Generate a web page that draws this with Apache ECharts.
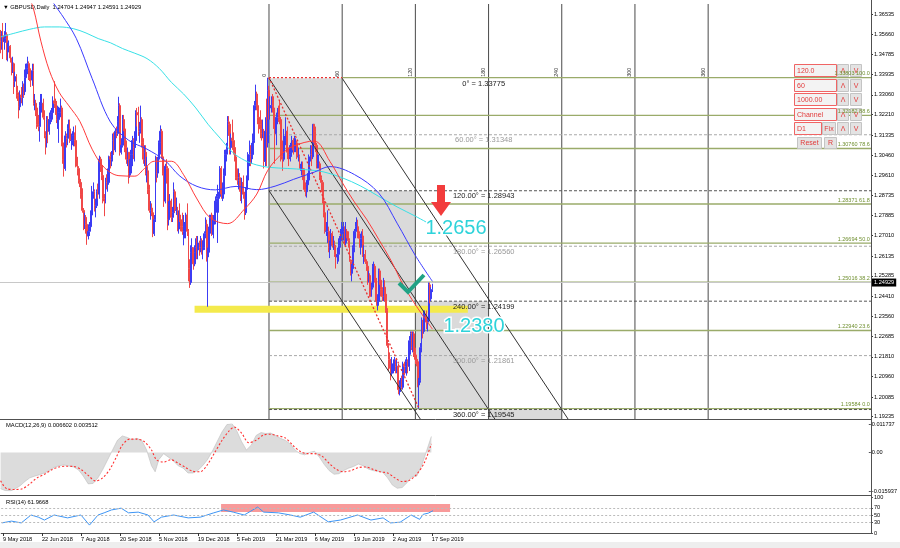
<!DOCTYPE html>
<html><head><meta charset="utf-8">
<script src="https://cdn.jsdelivr.net/npm/echarts@6/dist/echarts.min.js"></script>
<style>html,body{margin:0;padding:0;background:#fff;}#c{width:900px;height:548px;}</style>
</head><body><div id="c"></div>
<script>
// ---------------- DATA ----------------
const symbolName = 'GBPUSD,Daily';
// daily bars [open, high, low, close], 8 May 2018 .. 18 Sep 2019 (weekdays, no 25 Dec / 1 Jan)
const bars = [
[1.3570,1.3585,1.3485,1.3535],[1.3535,1.3580,1.3500,1.3560],[1.3560,1.3615,1.3460,1.3535],[1.3535,1.3580,1.3500,1.3550],
[1.3550,1.3615,1.3530,1.3565],[1.3565,1.3575,1.3455,1.3490],[1.3490,1.3530,1.3450,1.3510],[1.3510,1.3540,1.3490,1.3515],[1.3515,1.3520,1.3445,1.3465],
[1.3465,1.3465,1.3390,1.3430],[1.3430,1.3470,1.3400,1.3440],[1.3440,1.3445,1.3310,1.3365],[1.3365,1.3405,1.3340,1.3385],[1.3385,1.3395,1.3290,1.3315],
[1.3315,1.3345,1.3280,1.3305],[1.3305,1.3315,1.3205,1.3255],[1.3255,1.3325,1.3240,1.3305],[1.3305,1.3340,1.3270,1.3295],[1.3295,1.3365,1.3260,1.3350],
[1.3350,1.3355,1.3295,1.3320],[1.3320,1.3415,1.3305,1.3380],[1.3380,1.3440,1.3360,1.3420],[1.3420,1.3470,1.3395,1.3440],[1.3440,1.3450,1.3370,1.3410],
[1.3410,1.3440,1.3365,1.3380],[1.3380,1.3420,1.3340,1.3370],[1.3370,1.3440,1.3345,1.3410],[1.3410,1.3440,1.3260,1.3270],[1.3270,1.3310,1.3240,1.3270],
[1.3270,1.3285,1.3215,1.3250],[1.3250,1.3260,1.3160,1.3180],[1.3180,1.3220,1.3150,1.3170],[1.3170,1.3275,1.3105,1.3260],[1.3260,1.3310,1.3230,1.3260],
[1.3260,1.3310,1.3230,1.3270],[1.3270,1.3290,1.3200,1.3210],[1.3210,1.3240,1.3120,1.3130],[1.3130,1.3150,1.3050,1.3100],[1.3100,1.3215,1.3080,1.3200],
[1.3200,1.3215,1.3100,1.3150],[1.3150,1.3230,1.3135,1.3200],[1.3200,1.3240,1.3180,1.3220],[1.3220,1.3250,1.3190,1.3230],[1.3230,1.3300,1.3200,1.3280],
[1.3280,1.3365,1.3250,1.3270],[1.3270,1.3290,1.3220,1.3250],[1.3250,1.3280,1.3185,1.3200],[1.3200,1.3260,1.3160,1.3200],[1.3200,1.3255,1.3100,1.3230],
[1.3230,1.3290,1.3210,1.3250],[1.3250,1.3260,1.3085,1.3100],[1.3100,1.3125,1.3010,1.3030],[1.3030,1.3085,1.2955,1.2990],[1.2990,1.3150,1.2980,1.3130],
[1.3130,1.3140,1.3080,1.3120],[1.3120,1.3180,1.3090,1.3160],[1.3160,1.3200,1.3120,1.3160],[1.3160,1.3200,1.3100,1.3110],[1.3110,1.3140,1.3070,1.3110],
[1.3110,1.3150,1.3090,1.3130],[1.3130,1.3170,1.3085,1.3130],[1.3130,1.3145,1.3085,1.3110],[1.3110,1.3175,1.2995,1.3000],[1.3000,1.3040,1.2960,1.2990],
[1.2990,1.3000,1.2925,1.2940],[1.2940,1.2985,1.2910,1.2930],[1.2930,1.2945,1.2860,1.2880],[1.2880,1.2905,1.2800,1.2810],[1.2810,1.2820,1.2725,1.2760],
[1.2760,1.2800,1.2730,1.2780],[1.2780,1.2790,1.2710,1.2750],[1.2750,1.2760,1.2662,1.2700],[1.2700,1.2750,1.2685,1.2720],[1.2720,1.2760,1.2700,1.2740],
[1.2740,1.2810,1.2725,1.2790],[1.2790,1.2915,1.2770,1.2880],[1.2880,1.2930,1.2860,1.2890],[1.2890,1.2900,1.2805,1.2830],[1.2830,1.2860,1.2780,1.2830],
[1.2830,1.2900,1.2820,1.2890],[1.2890,1.2925,1.2860,1.2880],[1.2880,1.3045,1.2860,1.3030],[1.3030,1.3040,1.2975,1.3000],[1.3000,1.3020,1.2940,1.2960],
[1.2960,1.2970,1.2840,1.2860],[1.2860,1.2880,1.2785,1.2850],[1.2850,1.2950,1.2840,1.2940],[1.2940,1.2965,1.2900,1.2930],[1.2930,1.2990,1.2890,1.2930],
[1.2930,1.3045,1.2920,1.3040],[1.3040,1.3060,1.2990,1.3030],[1.3030,1.3065,1.3000,1.3050],[1.3050,1.3140,1.3020,1.3110],[1.3110,1.3145,1.3050,1.3070],
[1.3070,1.3160,1.3060,1.3150],[1.3150,1.3170,1.3120,1.3140],[1.3140,1.3215,1.3130,1.3190],[1.3190,1.3298,1.3160,1.3260],[1.3260,1.3270,1.3045,1.3060],
[1.3060,1.3120,1.3050,1.3090],[1.3090,1.3220,1.3080,1.3200],[1.3200,1.3220,1.3150,1.3160],[1.3160,1.3170,1.3060,1.3080],[1.3080,1.3110,1.3010,1.3030],
[1.3030,1.3080,1.3000,1.3060],[1.3060,1.3060,1.2925,1.2970],[1.2970,1.3030,1.2950,1.2970],[1.2970,1.3070,1.2960,1.3050],[1.3050,1.3130,1.3000,1.3110],
[1.3110,1.3120,1.3030,1.3080],[1.3080,1.3150,1.3020,1.3110],[1.3110,1.3240,1.3080,1.3230],[1.3230,1.3250,1.3170,1.3220],[1.3220,1.3255,1.3130,1.3150],
[1.3150,1.3190,1.3100,1.3160],[1.3160,1.3260,1.3140,1.3200],[1.3200,1.3210,1.3080,1.3100],[1.3100,1.3120,1.3010,1.3030],[1.3030,1.3090,1.3000,1.3060],
[1.3060,1.3090,1.2960,1.2970],[1.2970,1.3040,1.2930,1.2980],[1.2980,1.3000,1.2880,1.2900],[1.2900,1.2920,1.2800,1.2810],[1.2810,1.2850,1.2770,1.2820],
[1.2820,1.2840,1.2785,1.2800],[1.2800,1.2810,1.2695,1.2710],[1.2710,1.2790,1.2700,1.2770],[1.2770,1.3045,1.2760,1.3020],[1.3020,1.3040,1.2930,1.2970],
[1.2970,1.3040,1.2950,1.3030],[1.3030,1.3110,1.3010,1.3100],[1.3100,1.3175,1.3050,1.3150],[1.3150,1.3160,1.3030,1.3040],[1.3040,1.3050,1.2960,1.2970],
[1.2970,1.2980,1.2825,1.2850],[1.2850,1.3010,1.2840,1.3000],[1.3000,1.3030,1.2925,1.2990],[1.2990,1.3000,1.2725,1.2770],[1.2770,1.2850,1.2745,1.2830],
[1.2830,1.2880,1.2800,1.2850],[1.2850,1.2860,1.2760,1.2780],[1.2780,1.2825,1.2760,1.2800],[1.2800,1.2930,1.2790,1.2890],[1.2890,1.2900,1.2800,1.2810],
[1.2810,1.2865,1.2790,1.2810],[1.2810,1.2825,1.2720,1.2730],[1.2730,1.2810,1.2710,1.2790],[1.2790,1.2840,1.2760,1.2770],[1.2770,1.2790,1.2720,1.2740],
[1.2740,1.2800,1.2705,1.2720],[1.2720,1.2790,1.2660,1.2720],[1.2720,1.2760,1.2690,1.2730],[1.2730,1.2800,1.2690,1.2790],[1.2790,1.2840,1.2700,1.2720],
[1.2720,1.2730,1.2505,1.2560],[1.2560,1.2600,1.2477,1.2500],[1.2500,1.2660,1.2490,1.2630],[1.2630,1.2690,1.2600,1.2650],[1.2650,1.2650,1.2555,1.2580],
[1.2580,1.2660,1.2570,1.2630],[1.2630,1.2690,1.2600,1.2650],[1.2650,1.2700,1.2600,1.2640],[1.2640,1.2700,1.2600,1.2670],[1.2670,1.2680,1.2615,1.2650],
[1.2650,1.2700,1.2630,1.2680],[1.2680,1.2690,1.2620,1.2640],[1.2640,1.2680,1.2600,1.2650],[1.2650,1.2720,1.2640,1.2710],
[1.2710,1.2780,1.2690,1.2750],[1.2750,1.2770,1.2590,1.2610],[1.2610,1.2650,1.2396,1.2630],[1.2630,1.2740,1.2615,1.2730],
[1.2730,1.2790,1.2710,1.2790],[1.2790,1.2800,1.2700,1.2730],[1.2730,1.2770,1.2705,1.2750],[1.2750,1.2790,1.2690,1.2760],[1.2760,1.2870,1.2750,1.2850],
[1.2850,1.2880,1.2800,1.2860],[1.2860,1.2920,1.2670,1.2870],[1.2870,1.2890,1.2800,1.2870],[1.2870,1.3000,1.2860,1.2990],[1.2990,1.3000,1.2860,1.2880],
[1.2880,1.2930,1.2850,1.2880],[1.2880,1.2990,1.2860,1.2960],[1.2960,1.3070,1.2950,1.3050],[1.3050,1.3100,1.3020,1.3070],[1.3070,1.3215,1.3050,1.3190],
[1.3190,1.3215,1.3130,1.3180],[1.3180,1.3190,1.3050,1.3080],[1.3080,1.3140,1.3050,1.3120],[1.3120,1.3200,1.3070,1.3110],[1.3110,1.3145,1.3050,1.3080],
[1.3080,1.3090,1.3020,1.3040],[1.3040,1.3060,1.2940,1.2950],[1.2950,1.2990,1.2920,1.2940],[1.2940,1.2990,1.2900,1.2950],[1.2950,1.2970,1.2890,1.2940],
[1.2940,1.2950,1.2850,1.2880],[1.2880,1.2950,1.2840,1.2930],[1.2930,1.2960,1.2860,1.2880],[1.2880,1.2890,1.2770,1.2800],[1.2800,1.2910,1.2790,1.2900],
[1.2900,1.2960,1.2880,1.2940],[1.2940,1.3060,1.2920,1.3050],[1.3050,1.3110,1.3000,1.3050],[1.3050,1.3090,1.3000,1.3040],[1.3040,1.3100,1.3010,1.3050],
[1.3050,1.3140,1.3030,1.3110],[1.3110,1.3280,1.3100,1.3260],[1.3260,1.3350,1.3240,1.3310],[1.3310,1.3320,1.3240,1.3260],[1.3260,1.3270,1.3180,1.3210],
[1.3210,1.3220,1.3140,1.3180],[1.3180,1.3240,1.3120,1.3160],[1.3160,1.3200,1.3110,1.3140],[1.3140,1.3200,1.3120,1.3150],[1.3150,1.3160,1.2990,1.3020],
[1.3020,1.3210,1.3000,1.3150],[1.3150,1.3290,1.3000,1.3100],[1.3100,1.3380,1.3080,1.3325],[1.3325,1.3345,1.3200,1.3250],[1.3250,1.3300,1.3200,1.3260],
[1.3260,1.3300,1.3230,1.3260],[1.3260,1.3310,1.3230,1.3250],[1.3250,1.3300,1.3160,1.3190],[1.3190,1.3200,1.3010,1.3140],[1.3140,1.3230,1.3090,1.3210],
[1.3210,1.3250,1.3180,1.3220],[1.3220,1.3260,1.3190,1.3210],[1.3210,1.3280,1.3180,1.3200],[1.3200,1.3210,1.3020,1.3040],[1.3040,1.3110,1.2980,1.3030],
[1.3030,1.3160,1.3020,1.3110],[1.3110,1.3130,1.3030,1.3110],[1.3110,1.3210,1.3090,1.3150],[1.3150,1.3170,1.3030,1.3060],[1.3060,1.3080,1.3000,1.3040],
[1.3040,1.3090,1.3030,1.3050],[1.3050,1.3100,1.3020,1.3060],[1.3060,1.3130,1.3040,1.3110],[1.3110,1.3120,1.3050,1.3070],[1.3070,1.3130,1.3060,1.3090],
[1.3090,1.3120,1.3060,1.3100],[1.3100,1.3110,1.3030,1.3040],[1.3040,1.3080,1.3020,1.3040],[1.3040,1.3050,1.2990,1.2990],[1.2990,1.3010,1.2980,1.2990],
[1.2990,1.3020,1.2960,1.2990],[1.2990,1.3020,1.2940,1.2960],[1.2960,1.2990,1.2890,1.2900],[1.2900,1.2930,1.2870,1.2890],[1.2890,1.2940,1.2865,1.2920],
[1.2920,1.2970,1.2910,1.2940],[1.2940,1.3050,1.2930,1.3040],[1.3040,1.3090,1.3020,1.3050],[1.3050,1.3090,1.3000,1.3040],[1.3040,1.3180,1.3030,1.3180],
[1.3180,1.3180,1.3100,1.3150],[1.3150,1.3170,1.3060,1.3090],[1.3090,1.3100,1.2990,1.3010],[1.3010,1.3050,1.2990,1.3010],[1.3010,1.3050,1.2990,1.3010],
[1.3010,1.3020,1.2940,1.2950],[1.2950,1.2960,1.2890,1.2930],[1.2930,1.2940,1.2840,1.2850],[1.2850,1.2870,1.2780,1.2800],[1.2800,1.2820,1.2710,1.2720],
[1.2720,1.2760,1.2700,1.2720],[1.2720,1.2810,1.2670,1.2720],[1.2720,1.2740,1.2630,1.2650],[1.2650,1.2680,1.2605,1.2660],[1.2660,1.2730,1.2640,1.2710],
[1.2710,1.2720,1.2650,1.2660],[1.2660,1.2700,1.2640,1.2660],[1.2660,1.2680,1.2610,1.2620],[1.2620,1.2640,1.2560,1.2610],[1.2610,1.2650,1.2580,1.2620],
[1.2620,1.2690,1.2590,1.2660],[1.2660,1.2700,1.2620,1.2680],[1.2680,1.2730,1.2650,1.2710],[1.2710,1.2760,1.2690,1.2720],[1.2720,1.2760,1.2680,1.2740],
[1.2740,1.2740,1.2660,1.2670],[1.2670,1.2760,1.2660,1.2720],[1.2720,1.2730,1.2690,1.2700],[1.2700,1.2720,1.2650,1.2680],[1.2680,1.2690,1.2590,1.2590],
[1.2590,1.2600,1.2530,1.2540],[1.2540,1.2580,1.2505,1.2560],[1.2560,1.2660,1.2540,1.2650],[1.2650,1.2730,1.2630,1.2720],[1.2720,1.2760,1.2690,1.2740],
[1.2740,1.2780,1.2720,1.2740],[1.2740,1.2770,1.2690,1.2710],[1.2710,1.2720,1.2650,1.2690],[1.2690,1.2710,1.2620,1.2690],[1.2690,1.2720,1.2650,1.2700],
[1.2700,1.2730,1.2610,1.2620],[1.2620,1.2660,1.2580,1.2620],[1.2620,1.2640,1.2580,1.2590],[1.2590,1.2600,1.2550,1.2570],[1.2570,1.2580,1.2490,1.2520],
[1.2520,1.2550,1.2500,1.2530],[1.2530,1.2540,1.2440,1.2440],[1.2440,1.2500,1.2440,1.2480],[1.2480,1.2580,1.2470,1.2570],[1.2570,1.2590,1.2540,1.2570],
[1.2570,1.2580,1.2500,1.2510],[1.2510,1.2520,1.2400,1.2420],[1.2420,1.2450,1.2380,1.2420],[1.2420,1.2560,1.2400,1.2550],[1.2550,1.2560,1.2490,1.2510],
[1.2510,1.2520,1.2440,1.2470],[1.2470,1.2480,1.2420,1.2440],[1.2440,1.2520,1.2420,1.2480],[1.2480,1.2510,1.2420,1.2450],[1.2450,1.2470,1.2370,1.2380],
[1.2380,1.2390,1.2220,1.2230],[1.2230,1.2240,1.2120,1.2170],[1.2170,1.2200,1.2130,1.2150],[1.2150,1.2170,1.2080,1.2110],[1.2110,1.2180,1.2100,1.2150],
[1.2150,1.2170,1.2110,1.2150],[1.2150,1.2180,1.2120,1.2150],[1.2150,1.2170,1.2110,1.2140],[1.2140,1.2170,1.2110,1.2140],[1.2140,1.2150,1.2020,1.2040],
[1.2040,1.2080,1.2015,1.2060],[1.2060,1.2090,1.2030,1.2060],[1.2060,1.2100,1.2040,1.2050],[1.2050,1.2160,1.2040,1.2150],[1.2150,1.2160,1.2100,1.2140],
[1.2140,1.2170,1.2110,1.2150],[1.2150,1.2180,1.2100,1.2160],[1.2160,1.2170,1.2110,1.2140],[1.2140,1.2270,1.2120,1.2250],[1.2250,1.2290,1.2190,1.2280],
[1.2280,1.2290,1.2210,1.2220],[1.2220,1.2290,1.2200,1.2280],[1.2280,1.2290,1.2180,1.2200],[1.2200,1.2220,1.2150,1.2170],[1.2170,1.2190,1.2140,1.2160],
[1.2160,1.2170,1.2050,1.2060],[1.2060,1.2090,1.1958,1.2080],[1.2080,1.2240,1.2070,1.2220],[1.2220,1.2350,1.2200,1.2330],[1.2330,1.2340,1.2260,1.2290],
[1.2290,1.2380,1.2280,1.2350],[1.2350,1.2380,1.2320,1.2360],[1.2360,1.2380,1.2300,1.2330],[1.2330,1.2350,1.2290,1.2340],[1.2340,1.2500,1.2330,1.2490],
[1.2490,1.2500,1.2410,1.2430],[1.2430,1.2480,1.2420,1.2470],[1.24704,1.24947,1.24591,1.24929]
];
const dateLabels = ['9 May 2018','22 Jun 2018','7 Aug 2018','20 Sep 2018','5 Nov 2018','19 Dec 2018','5 Feb 2019','21 Mar 2019','6 May 2019','19 Jun 2019','2 Aug 2019','17 Sep 2019'];
const dateLabelStep = 32;
const priceTicks = [1.36535,1.35660,1.34785,1.33935,1.33060,1.32210,1.31335,1.30460,1.29610,1.28735,1.27885,1.27010,1.26135,1.25285,1.24410,1.23560,1.22685,1.21810,1.20960,1.20085,1.19235];
// moving averages: [bar index, price]
const maRed = [[22,1.3742],[27,1.3675],[33,1.3537],[40,1.3410],[48,1.3317],[56,1.3259],[65,1.3192],[75,1.3073],[85,1.2994],[97,1.2959],[110,1.2957],[118,1.2990],[126,1.3021],[140,1.3021],[150,1.2963],[161,1.2859],[172,1.2777],[186,1.2753],[200,1.2816],[210,1.2880],[219,1.2982],[230,1.3050],[240,1.3086],[257,1.3108],[270,1.3020],[280,1.2930],[290,1.2846],[300,1.2772],[310,1.2685],[320,1.2595],[330,1.2490],[340,1.2405],[354,1.2300]];
const maBlue = [[36,1.3760],[42,1.3710],[50,1.3651],[62,1.3549],[75,1.3377],[90,1.3190],[105,1.3111],[120,1.3073],[135,1.3023],[147,1.2957],[161,1.2913],[176,1.2898],[193,1.2913],[210,1.2899],[225,1.2914],[240,1.2943],[257,1.2974],[270,1.2998],[290,1.2964],[310,1.2884],[325,1.2755],[340,1.2616],[354,1.2505]];
const maCyan = [[0,1.3555],[12,1.3572],[24,1.3588],[36,1.3598],[48,1.3598],[60,1.3590],[70,1.3572],[80,1.3548],[90,1.3530],[100,1.3505],[110,1.3485],[120,1.3462],[130,1.3420],[140,1.3360],[150,1.3310],[160,1.3250],[170,1.3180],[180,1.3120],[190,1.3060],[200,1.3025],[210,1.3005],[220,1.2995],[235,1.2990],[250,1.2985],[265,1.2975],[280,1.2950],[295,1.2915],[310,1.2870],[325,1.2825],[340,1.2785],[354,1.2745]];
const macdMain = [[0,-0.0150],[4,-0.0158],[8,-0.0160],[12,-0.0150],[16,-0.0138],[20,-0.0120],[24,-0.0105],[28,-0.0098],[32,-0.0092],[36,-0.0085],[40,-0.0075],[44,-0.0062],[48,-0.0055],[52,-0.0052],[56,-0.0056],[60,-0.0060],[64,-0.0072],[68,-0.0098],[72,-0.0130],[76,-0.0128],[80,-0.0105],[84,-0.0070],[88,-0.0030],[92,0.0010],[96,0.0050],[100,0.0068],[104,0.0062],[108,0.0052],[112,0.0058],[116,0.0050],[120,0.0010],[124,-0.0055],[127,-0.0080],[130,-0.0030],[134,-0.0005],[138,-0.0020],[142,-0.0035],[146,-0.0055],[150,-0.0065],[154,-0.0085],[158,-0.0085],[162,-0.0075],[166,-0.0055],[170,-0.0030],[174,0.0005],[178,0.0045],[182,0.0085],[186,0.0115],[190,0.0120],[194,0.0090],[198,0.0045],[202,0.0010],[206,0.0030],[210,0.0070],[214,0.0082],[218,0.0078],[222,0.0080],[226,0.0070],[230,0.0058],[234,0.0050],[238,0.0035],[242,0.0010],[246,-0.0005],[250,-0.0010],[254,0.0000],[258,0.0005],[262,-0.0020],[266,-0.0050],[270,-0.0075],[274,-0.0090],[278,-0.0088],[282,-0.0075],[286,-0.0065],[290,-0.0058],[294,-0.0048],[298,-0.0055],[302,-0.0068],[306,-0.0075],[310,-0.0078],[314,-0.0082],[318,-0.0105],[322,-0.0135],[326,-0.0148],[330,-0.0145],[334,-0.0125],[338,-0.0100],[342,-0.0098],[346,-0.0055],[350,0.0005],[354,0.0066]];
const macdSignal = [[0,-0.0117],[5,-0.0150],[12,-0.0153],[18,-0.0150],[24,-0.0130],[30,-0.0105],[36,-0.0090],[42,-0.0072],[48,-0.0060],[54,-0.0057],[60,-0.0058],[66,-0.0070],[72,-0.0095],[78,-0.0118],[84,-0.0105],[90,-0.0068],[96,-0.0010],[100,0.0030],[106,0.0055],[112,0.0055],[118,0.0045],[124,0.0010],[128,-0.0030],[134,-0.0040],[140,-0.0030],[146,-0.0045],[152,-0.0062],[158,-0.0078],[164,-0.0080],[170,-0.0050],[176,0.0000],[182,0.0050],[188,0.0090],[192,0.0105],[198,0.0080],[204,0.0040],[210,0.0050],[216,0.0072],[222,0.0075],[228,0.0068],[234,0.0060],[240,0.0030],[246,0.0005],[252,-0.0005],[258,-0.0005],[264,-0.0015],[270,-0.0045],[276,-0.0070],[282,-0.0080],[288,-0.0075],[294,-0.0063],[300,-0.0060],[306,-0.0070],[312,-0.0080],[318,-0.0085],[324,-0.0105],[330,-0.0120],[336,-0.0115],[342,-0.0090],[348,-0.0045],[354,0.0035]];
const macdLast = [0.006602, 0.003512];
const macdRange = [-0.015937, 0.011737];
const rsi = [[0,28],[8,33],[16,28],[24,50],[30,44],[35,36],[43,50],[54,42],[65,50],[72,22],[79,50],[84,56],[90,64],[98,69],[104,56],[112,58],[120,50],[125,31],[131,44],[141,50],[153,42],[163,44],[174,56],[182,64],[190,58],[199,50],[210,72],[215,58],[227,56],[237,50],[245,44],[256,58],[268,31],[278,36],[292,50],[303,36],[313,42],[319,28],[327,30],[336,50],[343,38],[346,52],[350,55],[354,62]];
const rsiLast = 61.9668;
const rsiLevels = [70, 50, 30];
// Gann grid / Fibonacci tool
const gannStartIdx = 220, gannStepBars = 60, gannLabelIdx = 396;
const gannPrices = [1.33775,1.31348,1.28943,1.26560,1.24199,1.21861,1.19545];
const gannColLabels = ['0','60','120','180','240','300','360'];
const fibPrices = [1.33803,1.32182,1.30760,1.28371,1.26694,1.25016,1.22940,1.19584];
const fibLevels = ['100.0','88.6','78.6','61.8','50.0','38.2','23.6','0.0'];
const yellowZone = [159, 383, 1.2370, 1.2400];
const rsiZone = [180, 368, 58.3, 80.6];
const targetTexts = ['1.2656', '1.2380'];
const panelInputs = ['120.0','60','1000.00','Channel','D1'];

// ---------------- LAYOUT / STYLE ----------------
const N = 714, PW = 871;
const FONT = '"Liberation Sans", Arial, sans-serif';
const yMin = 1.19138, yMax = 1.36965;
const UP = '#3c3cf4', DOWN = '#f04848';
const cats = Array.from({length: N}, (_, i) => String(i));
const candleData = bars.map(b => [b[0], b[3], b[2], b[1]]);
const last = bars[bars.length - 1];
const lowIdx = bars.reduce((m, b, i) => b[2] < bars[m][2] ? i : m, 0);
const slope = (gannPrices[0] - gannPrices[6]) / (3 * gannStepBars);

function rectSeries(rows, xi, yi, color, z) {
  return {type: 'custom', xAxisIndex: xi, yAxisIndex: yi, z, silent: true, clip: true,
    data: rows, encode: {x: [0, 1], y: [2, 3]},
    renderItem(params, api) {
      const a = api.coord([api.value(0), api.value(3)]);
      const b = api.coord([api.value(1), api.value(2)]);
      return {type: 'rect', shape: {x: a[0], y: a[1], width: b[0] - a[0], height: b[1] - a[1]}, style: {fill: color}};
    }};
}
function segSeries(rows, styles, z) {
  return {type: 'custom', xAxisIndex: 1, yAxisIndex: 0, z, silent: true, clip: true,
    data: rows, encode: {x: [0, 2], y: [1, 3]},
    renderItem(params, api) {
      const a = api.coord([api.value(0), api.value(1)]);
      const b = api.coord([api.value(2), api.value(3)]);
      return {type: 'line', shape: {x1: a[0], y1: a[1], x2: b[0], y2: b[1]}, style: styles[params.dataIndex]};
    }};
}
const g = gannStartIdx, s = gannStepBars;
const boxes = [[g, g + s, gannPrices[4], gannPrices[0]], [g + s, g + 2 * s, gannPrices[4], gannPrices[2]], [g + 2 * s, g + 3 * s, gannPrices[6], gannPrices[4]], [g + 3 * s, g + 4 * s, yMin, gannPrices[6]]];

const levelRows = [], levelStyles = [];
fibPrices.forEach((p, k) => { levelRows.push([k === 0 ? g + s : g, p, N - 0.5, p]); levelStyles.push({stroke: '#9aab6a', lineWidth: 1.4}); });
gannPrices.forEach((p, k) => { if (k === 0) return; levelRows.push([g, p, N - 0.5, p]); levelStyles.push({stroke: k % 2 ? '#a8a8a8' : '#555', lineWidth: 1, lineDash: [3, 2]}); });
const vertRows = gannColLabels.map((_, k) => [g + k * s, yMin, g + k * s, yMax]);
const vertStyles = vertRows.map(() => ({stroke: '#4a4a4a', lineWidth: 1}));
function diag(x0, p0) { return [x0, p0, x0 + (p0 - yMin) / slope, yMin]; }
const diagRows = [diag(g, gannPrices[0]), diag(g + s, gannPrices[0]), diag(g, gannPrices[2]),
  [g, fibPrices[0], g + s, fibPrices[0]], [g, fibPrices[0], lowIdx, fibPrices[7]]];
const diagStyles = [{stroke: '#333', lineWidth: 1}, {stroke: '#333', lineWidth: 1}, {stroke: '#333', lineWidth: 1},
  {stroke: '#e83030', lineWidth: 1.3, lineDash: [2, 2]}, {stroke: '#e83030', lineWidth: 1.3, lineDash: [2, 2]}];

function maSeries(data, color) {
  return {type: 'line', xAxisIndex: 1, yAxisIndex: 0, data, showSymbol: false, smooth: 0.35, silent: true, z: 7,
    lineStyle: {color, width: 1}};
}

const gannTextSeries = {type: 'custom', xAxisIndex: 1, yAxisIndex: 0, z: 9, silent: true, clip: false,
  data: gannPrices.map(p => [gannLabelIdx, p]),
  renderItem(params, api) {
    const k = params.dataIndex;
    const c = api.coord([api.value(0), api.value(1)]);
    const deg = k === 0 ? '0°' : (k * 60).toFixed(2) + '°';
    return {type: 'text', x: c[0], y: c[1] + 1.5, style: {text: deg + ' = ' + gannPrices[k].toFixed(5),
      fill: k % 2 ? '#9a9a9a' : '#222', font: '7.5px ' + FONT, align: 'center', verticalAlign: 'top'}};
  }};
const colTextSeries = {type: 'custom', xAxisIndex: 1, yAxisIndex: 0, z: 9, silent: true, clip: false,
  data: gannColLabels.map((_, k) => [g + k * s, gannPrices[0]]),
  renderItem(params, api) {
    const c = api.coord([api.value(0), api.value(1)]);
    return {type: 'text', x: c[0] - 5, y: c[1] - 1.5, rotation: Math.PI / 2,
      style: {text: gannColLabels[params.dataIndex], fill: '#333', font: '5.5px ' + FONT, align: 'left', verticalAlign: 'middle'}};
  }};
const fibTextSeries = {type: 'custom', xAxisIndex: 1, yAxisIndex: 0, z: 60, silent: true, clip: false,
  data: fibPrices.map(p => [N - 1.5, p]),
  renderItem(params, api) {
    const c = api.coord([api.value(0), api.value(1)]);
    const k = params.dataIndex;
    return {type: 'text', x: c[0], y: c[1] - 1, z2: 100,
      style: {text: fibPrices[k].toFixed(5) + ' ' + fibLevels[k], fill: '#6f8f2f', font: '5.5px ' + FONT, align: 'right', verticalAlign: 'bottom'}};
  }};

function box(x, y, w, h, text, edit) {
  return [
    {type: 'rect', z: 50, shape: {x: x + 0.5, y: y + 0.5, width: w, height: h}, style: {fill: edit ? '#f3f3f3' : '#e3e3e3', stroke: edit ? '#f06464' : '#c4c4c4', lineWidth: 1}},
    {type: 'text', z: 51, x: edit ? x + 3 : x + w / 2 + 0.5, y: y + h / 2 + 1, style: {text, fill: '#e23a3a', font: '7px ' + FONT, align: edit ? 'left' : 'center', verticalAlign: 'middle'}}
  ];
}
const panel = [];
const rowsY = [64, 79, 93, 108, 122];
rowsY.forEach((y, r) => {
  if (r < 4) panel.push(...box(794, y, 42, 12, panelInputs[r], true));
  else { panel.push(...box(794, y, 27, 12, panelInputs[r], true)); panel.push(...box(822, y, 13, 12, 'Fix', false)); }
  panel.push(...box(837, y, 11, 12, 'Λ', false));
  panel.push(...box(850, y, 11, 12, 'V', false));
});
panel.push(...box(797, 137, 24, 11, 'Reset', false));
panel.push(...box(824, 137, 12, 11, 'R', false));

const bigText = (t, x, y) => ({type: 'text', z: 100, x, y, style: {text: t, font: '20px ' + FONT, fill: '#2ed3da',
  stroke: '#ffffff', lineWidth: 3, align: 'center', verticalAlign: 'middle', shadowColor: 'rgba(0,0,0,0.5)', shadowBlur: 3, shadowOffsetX: 1, shadowOffsetY: 1}});

const frameLine = (x1, y1, x2, y2) => ({type: 'line', z: 40, shape: {x1, y1, x2, y2}, style: {stroke: '#505050', lineWidth: 1}});
const noZero = {show: false, onZero: false};

const option = {
  animation: false,
  backgroundColor: '#ffffff',
  textStyle: {fontFamily: FONT},
  title: [
    {text: '▼ ' + symbolName + '  ' + last.map(v => v.toFixed(5)).join(' '), left: 3, top: 4, padding: 0,
      textStyle: {fontSize: 5.8, fontWeight: 'normal', color: '#000', fontFamily: FONT}},
    {text: 'MACD(12,26,9) ' + macdLast.map(v => v.toFixed(6)).join(' '), left: 6, top: 422, padding: 0,
      textStyle: {fontSize: 5.8, fontWeight: 'normal', color: '#000', fontFamily: FONT}},
    {text: 'RSI(14) ' + rsiLast.toFixed(4), left: 6, top: 499, padding: 0,
      textStyle: {fontSize: 5.8, fontWeight: 'normal', color: '#000', fontFamily: FONT}}
  ],
  grid: [
    {left: 0, top: 4, width: PW, height: 415},
    {left: 0, top: 424, width: PW, height: 67},
    {left: 0, top: 497, width: PW, height: 36}
  ],
  xAxis: [
    {type: 'category', gridIndex: 0, data: cats, boundaryGap: true, show: false, axisLine: noZero},
    {type: 'value', gridIndex: 0, min: -0.5, max: N - 0.5, show: false, axisLine: noZero},
    {type: 'value', gridIndex: 1, min: -0.5, max: N - 0.5, show: false, axisLine: noZero},
    {type: 'value', gridIndex: 2, min: -0.5, max: N - 0.5,
      axisLine: {show: true, onZero: false, lineStyle: {color: '#505050'}}, splitLine: {show: false},
      axisTick: {show: true, length: 3, lineStyle: {color: '#333'}, customValues: dateLabels.map((_, k) => 1 + k * dateLabelStep)},
      axisLabel: {show: true, fontSize: 5.6, color: '#000', margin: 3, align: 'left',
        customValues: dateLabels.map((_, k) => 1 + k * dateLabelStep),
        formatter: v => dateLabels[Math.round((v - 1) / dateLabelStep)] || ''}}
  ],
  yAxis: [
    {type: 'value', gridIndex: 0, position: 'right', min: yMin, max: yMax, splitLine: {show: false},
      axisLine: noZero, axisTick: {show: true, length: 2, lineStyle: {color: '#333'}, customValues: priceTicks},
      axisLabel: {show: true, fontSize: 5.6, color: '#000', margin: 3, customValues: priceTicks, formatter: v => v.toFixed(5)}},
    {type: 'value', gridIndex: 1, position: 'right', min: macdRange[0], max: macdRange[1], splitLine: {show: false},
      axisLine: noZero, axisTick: {show: true, length: 2, customValues: [macdRange[1], 0, macdRange[0]]},
      axisLabel: {show: true, fontSize: 5.6, color: '#000', margin: 3, customValues: [macdRange[1], 0, macdRange[0]],
        formatter: v => Math.abs(v) < 1e-9 ? '0.00' : v.toFixed(6)}},
    {type: 'value', gridIndex: 2, position: 'right', min: 0, max: 100, splitLine: {show: false},
      axisLine: noZero, axisTick: {show: true, length: 2, customValues: [100, 70, 50, 30, 0]},
      axisLabel: {show: true, fontSize: 5.6, color: '#000', margin: 3, customValues: [100, 70, 50, 30, 0]}}
  ],
  series: [
    rectSeries(boxes, 1, 0, '#dadada', 1),
    segSeries(vertRows, vertStyles, 2),
    rectSeries([yellowZone], 1, 0, '#f4ea4c', 3),
    segSeries(levelRows, levelStyles, 3),
    {type: 'candlestick', xAxisIndex: 0, yAxisIndex: 0, data: candleData, barWidth: 1.4, z: 5, silent: true,
      itemStyle: {color: UP, color0: DOWN, borderColor: UP, borderColor0: DOWN, borderWidth: 1},
      markLine: {silent: true, symbol: 'none', animation: false,
        lineStyle: {color: '#c8c8c8', width: 1, type: 'solid'},
        label: {show: true, position: 'end', distance: 1, formatter: () => last[3].toFixed(5),
          backgroundColor: '#000', color: '#fff', fontSize: 5.6, padding: [1, 2, 1, 2]},
        data: [{yAxis: last[3]}]}},
    segSeries(diagRows, diagStyles, 6),
    maSeries(maCyan, '#38e0e6'),
    maSeries(maBlue, '#3a3aff'),
    maSeries(maRed, '#ff3a3a'),
    gannTextSeries, colTextSeries, fibTextSeries,
    {type: 'line', xAxisIndex: 2, yAxisIndex: 1, data: macdMain, showSymbol: false, silent: true, z: 3,
      lineStyle: {width: 0.6, color: '#bdbdbd'}, areaStyle: {color: '#cdcdcd', origin: 0}},
    {type: 'line', xAxisIndex: 2, yAxisIndex: 1, data: macdSignal, showSymbol: false, silent: true, smooth: 0.3, z: 4,
      lineStyle: {width: 1.1, color: '#ff3030', type: [2, 2]}},
    rectSeries([rsiZone], 3, 2, '#f89a9a', 1),
    {type: 'line', xAxisIndex: 3, yAxisIndex: 2, data: rsi, showSymbol: false, silent: true, z: 4,
      lineStyle: {width: 1, color: '#3d95f5'},
      markLine: {silent: true, symbol: 'none', label: {show: false},
        lineStyle: {color: '#bbbbbb', type: [2, 2], width: 1}, data: rsiLevels.map(v => ({yAxis: v}))}}
  ],
  graphic: [
    frameLine(0, 419.5, PW, 419.5), frameLine(0, 495.5, PW, 495.5),
    frameLine(PW + 0.5, 0, PW + 0.5, 534),
    {type: 'rect', z: 0, shape: {x: 0, y: 542, width: 900, height: 6}, style: {fill: '#eeeeee'}},
    ...panel,
    bigText(targetTexts[0], 456, 228), bigText(targetTexts[1], 474, 326),
    {type: 'polygon', z: 100, shape: {points: [[437, 185], [445, 185], [445, 202], [451, 202], [441, 216], [431, 202], [437, 202]]}, style: {fill: '#f23c3c'}},
    {type: 'polyline', z: 100, shape: {points: [[399, 283], [408, 292], [424, 275]]}, style: {stroke: '#21a285', lineWidth: 4, fill: 'none'}}
  ]
};
const chart = echarts.init(document.getElementById('c'), null, {renderer: 'canvas'});
chart.setOption(option);
</script></body></html>
